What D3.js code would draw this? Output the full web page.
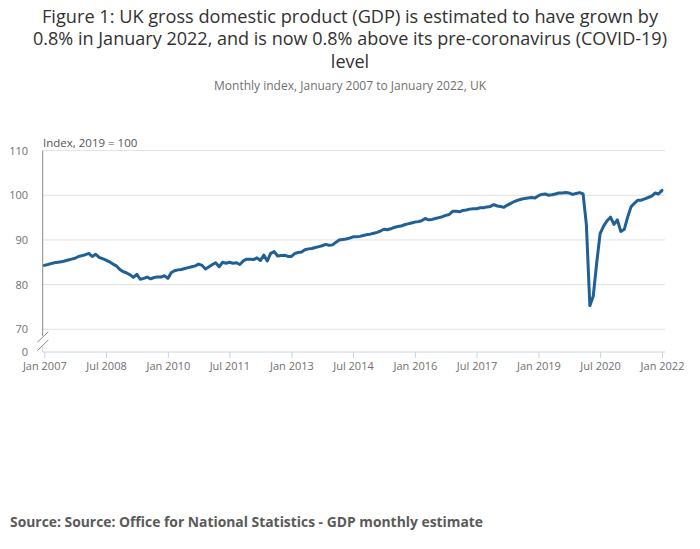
<!DOCTYPE html>
<html>
<head>
<meta charset="utf-8">
<script src="https://cdn.jsdelivr.net/npm/d3@7"></script>
<style>
  html, body { margin: 0; padding: 0; background: #fff; }
  svg { display: block; font-family: "Open Sans", "Noto Sans", sans-serif; }
</style>
</head>
<body>
<svg id="chart" width="700" height="549"></svg>
<script>
// ---- Data ----
const startMonth = "2007-01";
// Monthly GDP index (2019 = 100), Jan 2007 .. Jan 2022
const gdpIndex = [
  // 2007
  84.3, 84.5, 84.7, 84.9, 85.0, 85.1, 85.3, 85.5, 85.7, 85.9, 86.3, 86.5,
  // 2008
  86.7, 87.0, 86.3, 86.8, 86.1, 85.8, 85.5, 85.1, 84.6, 84.2, 83.4, 82.9,
  // 2009
  82.6, 82.2, 81.6, 82.3, 81.2, 81.4, 81.7, 81.3, 81.6, 81.7, 81.7, 82.0,
  // 2010
  81.4, 82.7, 83.1, 83.3, 83.4, 83.6, 83.8, 84.0, 84.2, 84.6, 84.3, 83.5,
  // 2011
  84.0, 84.5, 84.9, 84.0, 85.0, 84.8, 85.0, 84.8, 84.9, 84.5, 85.3, 85.7,
  // 2012
  85.7, 85.6, 86.0, 85.4, 86.6, 85.3, 87.0, 87.4, 86.4, 86.5, 86.6, 86.3,
  // 2013
  86.3, 87.0, 87.2, 87.3, 87.8, 88.0, 88.1, 88.3, 88.5, 88.7, 89.0, 88.8,
  // 2014
  88.9, 89.5, 90.0, 90.1, 90.2, 90.4, 90.7, 90.7, 90.8, 91.0, 91.2, 91.3,
  // 2015
  91.5, 91.7, 92.0, 92.4, 92.3, 92.5, 92.8, 93.0, 93.1, 93.4, 93.6, 93.8,
  // 2016
  94.0, 94.1, 94.3, 94.8, 94.5, 94.6, 94.8, 95.0, 95.2, 95.5, 95.7, 96.4,
  // 2017
  96.4, 96.3, 96.6, 96.7, 96.9, 97.0, 97.0, 97.2, 97.2, 97.4, 97.5, 97.9,
  // 2018
  97.6, 97.5, 97.3, 97.8, 98.2, 98.6, 98.9, 99.1, 99.3, 99.4, 99.5, 99.4,
  // 2019
  99.9, 100.2, 100.3, 100.0, 100.1, 100.3, 100.5, 100.5, 100.6, 100.5, 100.2, 100.4,
  // 2020
  100.6, 100.3, 93.5, 75.3, 77.4, 84.9, 91.4, 93.1, 94.3, 95.1, 93.5, 94.5,
  // 2021
  91.9, 92.4, 95.0, 97.4, 98.2, 98.9, 98.9, 99.2, 99.5, 99.8, 100.5, 100.3,
  // 2022
  101.1
];
const xTickLabels = ["Jan 2007", "Jul 2008", "Jan 2010", "Jul 2011", "Jan 2013",
  "Jul 2014", "Jan 2016", "Jul 2017", "Jan 2019", "Jul 2020", "Jan 2022"];
const yTicks = [0, 70, 80, 90, 100, 110];
const titleLines = [
  "Figure 1: UK gross domestic product (GDP) is estimated to have grown by",
  "0.8% in January 2022, and is now 0.8% above its pre-coronavirus (COVID-19)",
  "level"
];
const subtitle = "Monthly index, January 2007 to January 2022, UK";
const yAxisTitle = "Index, 2019 = 100";
const sourceText = "Source: Source: Office for National Statistics - GDP monthly estimate";

// ---- Build ----
const parseMonth = d3.timeParse("%Y-%m");
const parseTick = d3.timeParse("%b %Y");
const start = parseMonth(startMonth);
const series = gdpIndex.map((v, i) => ({ date: d3.timeMonth.offset(start, i), value: v }));

const svg = d3.select("#chart");

const x = d3.scaleTime()
  .domain([parseTick("Jan 2007"), parseTick("Jan 2022")])
  .range([44.3, 662]);

// broken axis: 0 -> 70 compressed
const y = d3.scaleLinear()
  .domain([0, 70, 110])
  .range([352, 329.3, 150.6]);

const plotLeft = 42.7, plotRight = 665;

// Title
const title = svg.append("g").attr("fill", "#323132").attr("font-size", 18);
const titleWidths = [616, 634, null];
titleLines.forEach((t, i) => {
  const el = title.append("text")
    .attr("x", 350).attr("y", 23 + i * 22.3)
    .attr("text-anchor", "middle")
    .text(t);
  if (titleWidths[i]) el.attr("textLength", titleWidths[i]).attr("lengthAdjust", "spacingAndGlyphs");
});
svg.append("text")
  .attr("x", 350).attr("y", 90)
  .attr("text-anchor", "middle")
  .attr("font-size", 12).attr("fill", "#707070")
  .attr("textLength", 272).attr("lengthAdjust", "spacingAndGlyphs")
  .text(subtitle);

// Gridlines
const gridVals = yTicks.filter(v => v >= 70);
svg.append("g").selectAll("line").data(gridVals).join("line")
  .attr("x1", plotLeft).attr("x2", plotRight)
  .attr("y1", d => y(d)).attr("y2", d => y(d))
  .attr("stroke", "#e2e2e2").attr("stroke-width", 1);

// Y axis line (gray) above break
svg.append("line")
  .attr("x1", plotLeft).attr("x2", plotLeft)
  .attr("y1", y(110)).attr("y2", 336)
  .attr("stroke", "#8a8a8a").attr("stroke-width", 1);
// lower short segment below break
svg.append("line")
  .attr("x1", plotLeft).attr("x2", plotLeft)
  .attr("y1", 345).attr("y2", y(0))
  .attr("stroke", "#c6d4e6").attr("stroke-width", 1);
// break marks
[[37.3, 342.3, 48.3, 331.7], [37.3, 350.7, 48.3, 340]].forEach(b => {
  svg.append("line")
    .attr("x1", b[0]).attr("y1", b[1]).attr("x2", b[2]).attr("y2", b[3])
    .attr("stroke", "#8a8a8a").attr("stroke-width", 1);
});

// Y tick labels
svg.append("g").selectAll("text").data(yTicks).join("text")
  .attr("x", 28).attr("y", d => y(d))
  .attr("dy", "0.36em")
  .attr("text-anchor", "end")
  .attr("font-size", 11).attr("fill", "#707070")
  .text(d => d);

// Y axis title
svg.append("text")
  .attr("x", 43).attr("y", 146.5)
  .attr("font-size", 11.5).attr("fill", "#555")
  .text(yAxisTitle);

// X axis
const xAxis = d3.axisBottom(x)
  .tickValues(xTickLabels.map(parseTick))
  .tickFormat(d3.timeFormat("%b %Y"))
  .tickSizeOuter(0)
  .tickSize(6)
  .tickPadding(4);
const gx = svg.append("g")
  .attr("transform", `translate(0,${y(0)})`)
  .call(xAxis);
gx.select(".domain").remove();
gx.append("line")
  .attr("x1", plotLeft).attr("x2", plotRight)
  .attr("y1", 0).attr("y2", 0)
  .attr("stroke", "#c6d4e6").attr("stroke-width", 1);
gx.selectAll(".tick line").attr("stroke", "#c6d4e6");
gx.selectAll(".tick text")
  .attr("font-family", "Open Sans, sans-serif")
  .attr("font-size", 11).attr("fill", "#707070");

// Line
const line = d3.line()
  .x(d => x(d.date))
  .y(d => y(d.value));
svg.append("path")
  .datum(series)
  .attr("d", line)
  .attr("fill", "none")
  .attr("stroke", "#206095")
  .attr("stroke-width", 3)
  .attr("stroke-linejoin", "round")
  .attr("stroke-linecap", "round");

// Source
svg.append("text")
  .attr("x", 10).attr("y", 527)
  .attr("font-size", 14).attr("font-weight", "bold").attr("fill", "#5a5a5a")
  .attr("textLength", 473).attr("lengthAdjust", "spacingAndGlyphs")
  .text(sourceText);
</script>
</body>
</html>
